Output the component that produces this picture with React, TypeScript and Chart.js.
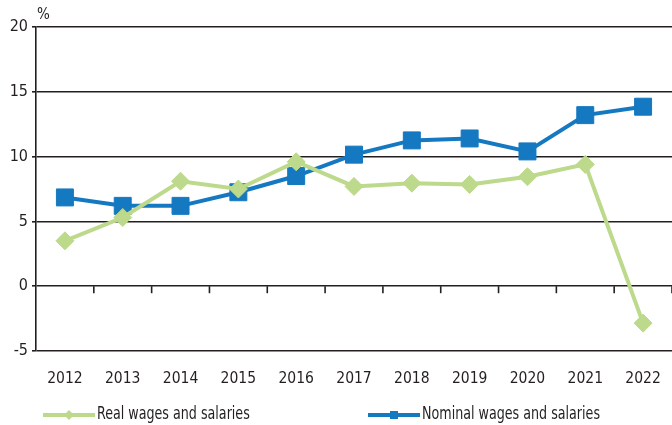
import React, { useEffect, useRef } from "react";
import { Chart, registerables } from "chart.js";

Chart.register(...registerables);

const years = ["2012", "2013", "2014", "2015", "2016", "2017", "2018", "2019", "2020", "2021", "2022"];
const realWages = [3.5, 5.3, 8.1, 7.5, 9.6, 7.7, 7.95, 7.85, 8.45, 9.4, -2.85];
const nominalWages = [6.85, 6.2, 6.2, 7.25, 8.5, 10.15, 11.25, 11.4, 10.4, 13.2, 13.85];
const yTicks = [-5, 0, 5, 10, 15, 20];
const realLabel = "Real wages and salaries";
const nominalLabel = "Nominal wages and salaries";
const unitLabel = "%";

const GREEN = "#bcd98c";
const BLUE = "#1479c1";
const INK = "#231f20";
const FONT = "'Liberation Sans Narrow', 'DejaVu Sans Condensed', 'Roboto', sans-serif";

const decorPlugin = {
  id: "decor",
  afterDraw(chart: any) {
    const ctx = chart.ctx;
    const area = chart.chartArea;
    const y = chart.scales.y;
    ctx.save();
    const y0 = y.getPixelForValue(0);
    ctx.strokeStyle = INK;
    ctx.lineWidth = 1.6;
    const n = years.length;
    const step = (area.right - area.left) / n;
    for (let i = 1; i <= n; i++) {
      const px = area.left + step * i;
      ctx.beginPath();
      ctx.moveTo(px, y0);
      ctx.lineTo(px, y0 + 7);
      ctx.stroke();
    }
    ctx.fillStyle = INK;
    ctx.font = `15px ${FONT}`;
    ctx.textAlign = "left";
    ctx.textBaseline = "middle";
    ctx.fillText(unitLabel, area.left + 1, area.top - 12);

    const ly = chart.height - 10;
    const drawItem = (x1: number, color: string, style: string, label: string) => {
      ctx.strokeStyle = color;
      ctx.lineWidth = 4;
      ctx.beginPath();
      ctx.moveTo(x1, ly);
      ctx.lineTo(x1 + 52, ly);
      ctx.stroke();
      ctx.fillStyle = color;
      const cx = x1 + 26;
      ctx.beginPath();
      if (style === "diamond") {
        ctx.moveTo(cx, ly - 5);
        ctx.lineTo(cx + 5, ly);
        ctx.lineTo(cx, ly + 5);
        ctx.lineTo(cx - 5, ly);
        ctx.closePath();
      } else {
        ctx.rect(cx - 4, ly - 4, 8, 8);
      }
      ctx.fill();
      ctx.fillStyle = INK;
      ctx.font = `17px ${FONT}`;
      ctx.textAlign = "left";
      ctx.textBaseline = "middle";
      ctx.save();
      ctx.translate(x1 + 54, ly);
      ctx.scale(0.83, 1);
      ctx.fillText(label, 0, 0);
      ctx.restore();
    };
    drawItem(area.left + 7, GREEN, "diamond", realLabel);
    drawItem(area.left + 332, BLUE, "square", nominalLabel);
    ctx.restore();
  },
};

export default function App() {
  const ref = useRef<HTMLCanvasElement | null>(null);
  useEffect(() => {
    document.body.style.margin = "0";
    const canvas = ref.current;
    if (!canvas) return;
    const chart = new Chart(canvas, {
      type: "line",
      data: {
        labels: years,
        datasets: [
          {
            label: realLabel,
            data: realWages,
            borderColor: GREEN,
            backgroundColor: GREEN,
            borderWidth: 4,
            pointStyle: "rectRot",
            pointRadius: 9,
            pointBorderWidth: 1,
            pointBorderColor: GREEN,
            pointBackgroundColor: GREEN,
            tension: 0,
          },
          {
            label: nominalLabel,
            data: nominalWages,
            borderColor: BLUE,
            backgroundColor: BLUE,
            borderWidth: 4,
            pointStyle: "rect",
            pointRadius: 12,
            pointBorderWidth: 1,
            pointBorderColor: BLUE,
            pointBackgroundColor: BLUE,
            tension: 0,
          },
        ],
      },
      options: {
        animation: false,
        responsive: false,
        maintainAspectRatio: false,
        layout: { autoPadding: false, padding: { top: 27, right: 0, bottom: 24, left: 0 } },
        plugins: {
          legend: { display: false },
          tooltip: { enabled: false },
        },
        scales: {
          x: {
            type: "category",
            offset: true,
            grid: { display: false, drawTicks: false },
            border: { display: false },
            ticks: {
              color: INK,
              font: { family: FONT, size: 15.5 },
              padding: 19,
              maxRotation: 0,
              autoSkip: false,
            },
            afterFit(scale: any) {
              scale.height = 50;
              scale.paddingLeft = 0;
              scale.paddingRight = 0;
            },
          },
          y: {
            min: -5,
            max: 20,
            afterBuildTicks(scale: any) {
              scale.ticks = yTicks.map((v) => ({ value: v }));
            },
            grid: {
              color: INK,
              lineWidth: 1.6,
              tickLength: 4,
              drawTicks: true,
            },
            border: { display: true, color: INK, width: 1.6 },
            ticks: {
              color: INK,
              font: { family: FONT, size: 16 },
              padding: 4,
            },
            afterFit(scale: any) {
              scale.width = 36;
            },
          },
        },
      },
      plugins: [decorPlugin],
    });
    return () => chart.destroy();
  }, []);
  return <canvas ref={ref} width={672} height={425} style={{ display: "block" }} />;
}
